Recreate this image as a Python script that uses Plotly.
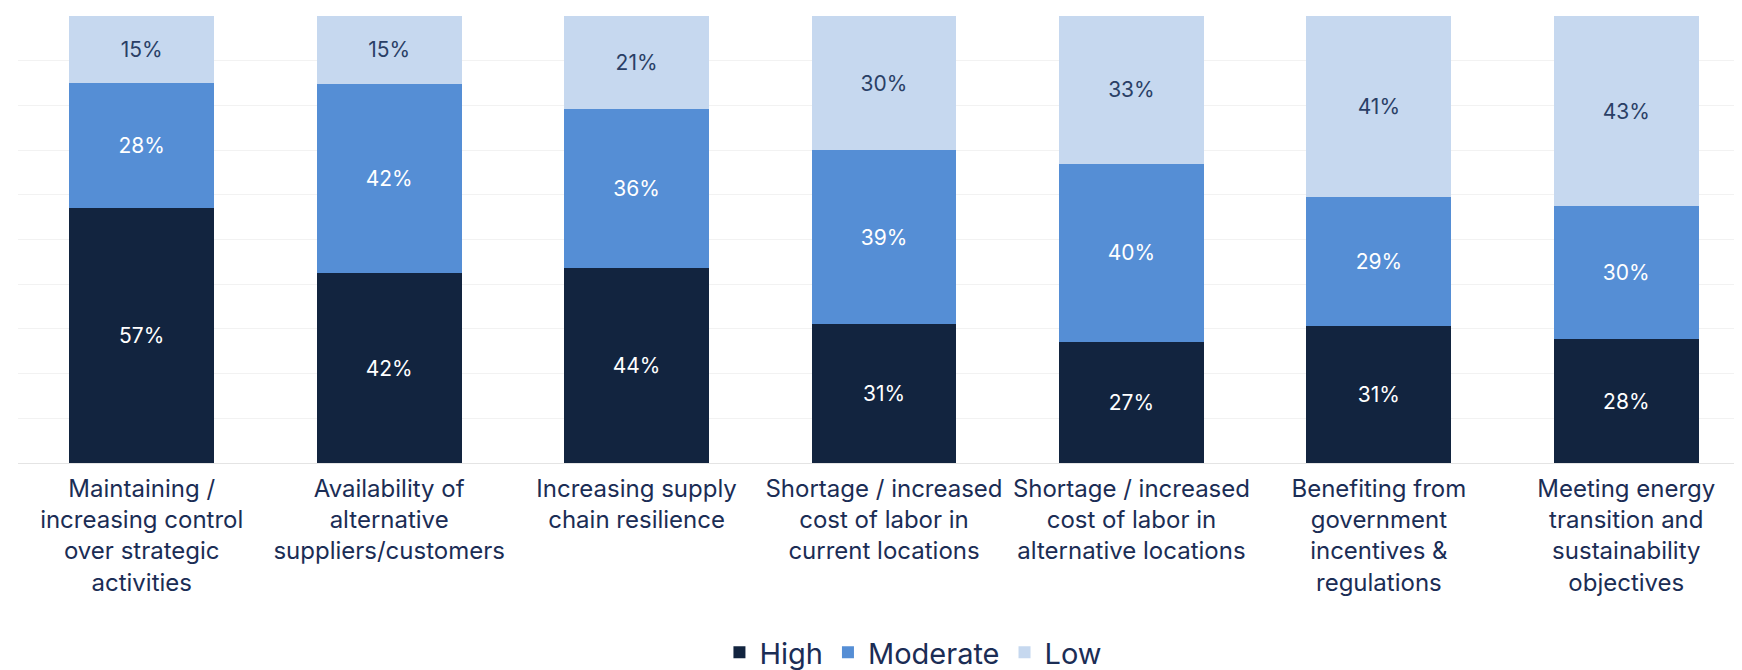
import plotly.graph_objects as go

categories = [
    "Maintaining /<br>increasing control<br>over strategic<br>activities",
    "Availability of<br>alternative<br>suppliers/customers",
    "Increasing supply<br>chain resilience",
    "Shortage / increased<br>cost of labor in<br>current locations",
    "Shortage / increased<br>cost of labor in<br>alternative locations",
    "Benefiting from<br>government<br>incentives &<br>regulations",
    "Meeting energy<br>transition and<br>sustainability<br>objectives",
]
high = [57, 42, 44, 31, 27, 31, 28]
moderate = [28, 42, 36, 39, 40, 29, 30]
low = [15, 15, 21, 30, 33, 41, 43]

FONT = "Inter"
TEXT = "#1b2d55"

fig = go.Figure()
series = [
    ("High", high, "#12243f", "white"),
    ("Moderate", moderate, "#558ed5", "white"),
    ("Low", low, "#c6d8ef", "#2a3f66"),
]
for name, vals, color, tcolor in series:
    fig.add_trace(go.Bar(
        name=name, x=categories, y=vals,
        marker=dict(color=color, line=dict(width=0)),
        text=[f"{v}%" for v in vals],
        textposition="inside", insidetextanchor="middle",
        textfont=dict(family=FONT, size=21, color=tcolor),
        width=0.585,
    ))

fig.update_layout(
    barmode="stack", barnorm="percent",
    width=1742, height=670,
    margin=dict(l=10, r=0, t=8, b=209),
    paper_bgcolor="white", plot_bgcolor="white",
    font=dict(family=FONT, color=TEXT),
    showlegend=True,
    legend=dict(orientation="h", x=0.517, xanchor="center", y=-0.424, yanchor="middle",
                font=dict(family=FONT, size=29, color=TEXT), traceorder="normal",
                itemwidth=30),
)
fig.update_xaxes(
    showgrid=False, showline=False, ticks="",
    tickfont=dict(family=FONT, size=24, color=TEXT),
    ticklabelstandoff=9,
)
fig.update_yaxes(
    range=[0, 100], dtick=10, showgrid=True, gridcolor="#f2f2f2", gridwidth=1,
    showticklabels=False, zeroline=True, zerolinecolor="#e4e4e4", zerolinewidth=1,
)

fig.write_html("out.html")
